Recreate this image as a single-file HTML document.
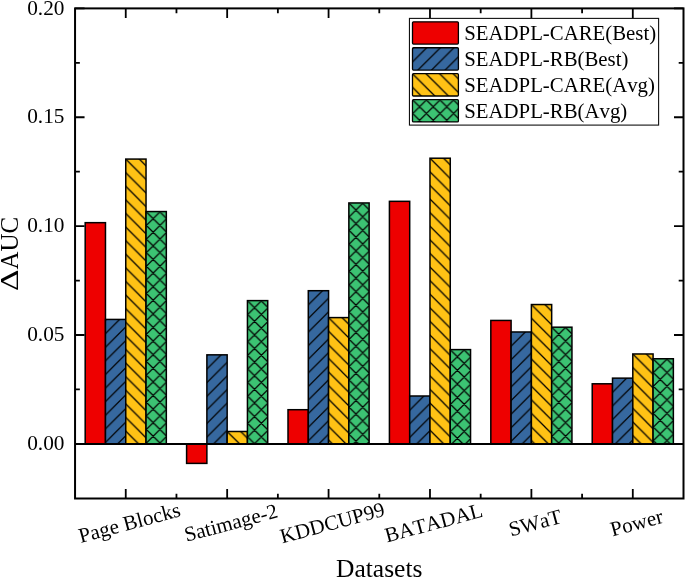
<!DOCTYPE html>
<html><head><meta charset="utf-8"><title>Bar chart</title>
<style>html,body{margin:0;padding:0;background:#fff;width:685px;height:578px;overflow:hidden}svg{display:block}text{font-kerning:none}</style>
</head><body>
<svg width="685" height="578" viewBox="0 0 685 578">
<defs><pattern id="p1" patternUnits="userSpaceOnUse" x="105.47" y="319.43" width="13.6" height="13.6"><rect width="13.6" height="13.6" fill="#36689F"/><path d="M-1 -12L-12 -1M-1 1.6L1.6 -1M-1 15.2L15.2 -1M-1 28.8L28.8 -1" stroke="#000" stroke-width="1.25"/></pattern><pattern id="p2" patternUnits="userSpaceOnUse" x="125.75" y="159.08" width="13.6" height="13.6"><rect width="13.6" height="13.6" fill="#FFC215"/><path d="M-1 26.2L14.6 41.8M-1 12.6L14.6 28.2M-1 -1L14.6 14.6M-1 -14.6L14.6 1" stroke="#000" stroke-width="1.25"/></pattern><pattern id="p3" patternUnits="userSpaceOnUse" x="146.04" y="211.56" width="13.6" height="13.6"><rect width="13.6" height="13.6" fill="#3CC373"/><path d="M-1 -12L-12 -1M-1 1.6L1.6 -1M-1 15.2L15.2 -1M-1 28.8L28.8 -1M-1 26.2L14.6 41.8M-1 12.6L14.6 28.2M-1 -1L14.6 14.6M-1 -14.6L14.6 1" stroke="#000" stroke-width="1.25"/></pattern><pattern id="p4" patternUnits="userSpaceOnUse" x="206.88" y="354.84" width="13.6" height="13.6"><rect width="13.6" height="13.6" fill="#36689F"/><path d="M-1 -12L-12 -1M-1 1.6L1.6 -1M-1 15.2L15.2 -1M-1 28.8L28.8 -1" stroke="#000" stroke-width="1.25"/></pattern><pattern id="p5" patternUnits="userSpaceOnUse" x="227.16" y="431.49" width="13.6" height="13.6"><rect width="13.6" height="13.6" fill="#FFC215"/><path d="M-1 26.2L14.6 41.8M-1 12.6L14.6 28.2M-1 -1L14.6 14.6M-1 -14.6L14.6 1" stroke="#000" stroke-width="1.25"/></pattern><pattern id="p6" patternUnits="userSpaceOnUse" x="247.44" y="300.62" width="13.6" height="13.6"><rect width="13.6" height="13.6" fill="#3CC373"/><path d="M-1 -12L-12 -1M-1 1.6L1.6 -1M-1 15.2L15.2 -1M-1 28.8L28.8 -1M-1 26.2L14.6 41.8M-1 12.6L14.6 28.2M-1 -1L14.6 14.6M-1 -14.6L14.6 1" stroke="#000" stroke-width="1.25"/></pattern><pattern id="p7" patternUnits="userSpaceOnUse" x="308.29" y="290.71" width="13.6" height="13.6"><rect width="13.6" height="13.6" fill="#36689F"/><path d="M-1 -12L-12 -1M-1 1.6L1.6 -1M-1 15.2L15.2 -1M-1 28.8L28.8 -1" stroke="#000" stroke-width="1.25"/></pattern><pattern id="p8" patternUnits="userSpaceOnUse" x="328.57" y="317.6" width="13.6" height="13.6"><rect width="13.6" height="13.6" fill="#FFC215"/><path d="M-1 26.2L14.6 41.8M-1 12.6L14.6 28.2M-1 -1L14.6 14.6M-1 -14.6L14.6 1" stroke="#000" stroke-width="1.25"/></pattern><pattern id="p9" patternUnits="userSpaceOnUse" x="348.85" y="202.96" width="13.6" height="13.6"><rect width="13.6" height="13.6" fill="#3CC373"/><path d="M-1 -12L-12 -1M-1 1.6L1.6 -1M-1 15.2L15.2 -1M-1 28.8L28.8 -1M-1 26.2L14.6 41.8M-1 12.6L14.6 28.2M-1 -1L14.6 14.6M-1 -14.6L14.6 1" stroke="#000" stroke-width="1.25"/></pattern><pattern id="p10" patternUnits="userSpaceOnUse" x="409.7" y="396" width="13.6" height="13.6"><rect width="13.6" height="13.6" fill="#36689F"/><path d="M-1 -12L-12 -1M-1 1.6L1.6 -1M-1 15.2L15.2 -1M-1 28.8L28.8 -1" stroke="#000" stroke-width="1.25"/></pattern><pattern id="p11" patternUnits="userSpaceOnUse" x="429.98" y="158.21" width="13.6" height="13.6"><rect width="13.6" height="13.6" fill="#FFC215"/><path d="M-1 26.2L14.6 41.8M-1 12.6L14.6 28.2M-1 -1L14.6 14.6M-1 -14.6L14.6 1" stroke="#000" stroke-width="1.25"/></pattern><pattern id="p12" patternUnits="userSpaceOnUse" x="450.26" y="349.61" width="13.6" height="13.6"><rect width="13.6" height="13.6" fill="#3CC373"/><path d="M-1 -12L-12 -1M-1 1.6L1.6 -1M-1 15.2L15.2 -1M-1 28.8L28.8 -1M-1 26.2L14.6 41.8M-1 12.6L14.6 28.2M-1 -1L14.6 14.6M-1 -14.6L14.6 1" stroke="#000" stroke-width="1.25"/></pattern><pattern id="p13" patternUnits="userSpaceOnUse" x="511.11" y="331.98" width="13.6" height="13.6"><rect width="13.6" height="13.6" fill="#36689F"/><path d="M-1 -12L-12 -1M-1 1.6L1.6 -1M-1 15.2L15.2 -1M-1 28.8L28.8 -1" stroke="#000" stroke-width="1.25"/></pattern><pattern id="p14" patternUnits="userSpaceOnUse" x="531.39" y="304.54" width="13.6" height="13.6"><rect width="13.6" height="13.6" fill="#FFC215"/><path d="M-1 26.2L14.6 41.8M-1 12.6L14.6 28.2M-1 -1L14.6 14.6M-1 -14.6L14.6 1" stroke="#000" stroke-width="1.25"/></pattern><pattern id="p15" patternUnits="userSpaceOnUse" x="551.67" y="327.19" width="13.6" height="13.6"><rect width="13.6" height="13.6" fill="#3CC373"/><path d="M-1 -12L-12 -1M-1 1.6L1.6 -1M-1 15.2L15.2 -1M-1 28.8L28.8 -1M-1 26.2L14.6 41.8M-1 12.6L14.6 28.2M-1 -1L14.6 14.6M-1 -14.6L14.6 1" stroke="#000" stroke-width="1.25"/></pattern><pattern id="p16" patternUnits="userSpaceOnUse" x="612.51" y="378.14" width="13.6" height="13.6"><rect width="13.6" height="13.6" fill="#36689F"/><path d="M-1 -12L-12 -1M-1 1.6L1.6 -1M-1 15.2L15.2 -1M-1 28.8L28.8 -1" stroke="#000" stroke-width="1.25"/></pattern><pattern id="p17" patternUnits="userSpaceOnUse" x="632.8" y="353.97" width="13.6" height="13.6"><rect width="13.6" height="13.6" fill="#FFC215"/><path d="M-1 26.2L14.6 41.8M-1 12.6L14.6 28.2M-1 -1L14.6 14.6M-1 -14.6L14.6 1" stroke="#000" stroke-width="1.25"/></pattern><pattern id="p18" patternUnits="userSpaceOnUse" x="653.08" y="358.76" width="13.6" height="13.6"><rect width="13.6" height="13.6" fill="#3CC373"/><path d="M-1 -12L-12 -1M-1 1.6L1.6 -1M-1 15.2L15.2 -1M-1 28.8L28.8 -1M-1 26.2L14.6 41.8M-1 12.6L14.6 28.2M-1 -1L14.6 14.6M-1 -14.6L14.6 1" stroke="#000" stroke-width="1.25"/></pattern></defs>
<rect x="85.19" y="222.67" width="20.28" height="221.23" fill="#EE0000" stroke="#000" stroke-width="1.5"/><rect x="105.47" y="319.43" width="20.28" height="124.47" fill="url(#p1)" stroke="#000" stroke-width="1.5"/><rect x="125.75" y="159.08" width="20.28" height="284.82" fill="url(#p2)" stroke="#000" stroke-width="1.5"/><rect x="146.04" y="211.56" width="20.28" height="232.34" fill="url(#p3)" stroke="#000" stroke-width="1.5"/><rect x="186.6" y="443.9" width="20.28" height="19.49" fill="#EE0000" stroke="#000" stroke-width="1.5"/><rect x="206.88" y="354.84" width="20.28" height="89.06" fill="url(#p4)" stroke="#000" stroke-width="1.5"/><rect x="227.16" y="431.49" width="20.28" height="12.41" fill="url(#p5)" stroke="#000" stroke-width="1.5"/><rect x="247.44" y="300.62" width="20.28" height="143.28" fill="url(#p6)" stroke="#000" stroke-width="1.5"/><rect x="288.01" y="409.71" width="20.28" height="34.19" fill="#EE0000" stroke="#000" stroke-width="1.5"/><rect x="308.29" y="290.71" width="20.28" height="153.19" fill="url(#p7)" stroke="#000" stroke-width="1.5"/><rect x="328.57" y="317.6" width="20.28" height="126.3" fill="url(#p8)" stroke="#000" stroke-width="1.5"/><rect x="348.85" y="202.96" width="20.28" height="240.94" fill="url(#p9)" stroke="#000" stroke-width="1.5"/><rect x="389.42" y="201.33" width="20.28" height="242.57" fill="#EE0000" stroke="#000" stroke-width="1.5"/><rect x="409.7" y="396" width="20.28" height="47.9" fill="url(#p10)" stroke="#000" stroke-width="1.5"/><rect x="429.98" y="158.21" width="20.28" height="285.69" fill="url(#p11)" stroke="#000" stroke-width="1.5"/><rect x="450.26" y="349.61" width="20.28" height="94.29" fill="url(#p12)" stroke="#000" stroke-width="1.5"/><rect x="490.82" y="320.44" width="20.28" height="123.46" fill="#EE0000" stroke="#000" stroke-width="1.5"/><rect x="511.11" y="331.98" width="20.28" height="111.92" fill="url(#p13)" stroke="#000" stroke-width="1.5"/><rect x="531.39" y="304.54" width="20.28" height="139.36" fill="url(#p14)" stroke="#000" stroke-width="1.5"/><rect x="551.67" y="327.19" width="20.28" height="116.71" fill="url(#p15)" stroke="#000" stroke-width="1.5"/><rect x="592.23" y="383.8" width="20.28" height="60.1" fill="#EE0000" stroke="#000" stroke-width="1.5"/><rect x="612.51" y="378.14" width="20.28" height="65.76" fill="url(#p16)" stroke="#000" stroke-width="1.5"/><rect x="632.8" y="353.97" width="20.28" height="89.93" fill="url(#p17)" stroke="#000" stroke-width="1.5"/><rect x="653.08" y="358.76" width="20.28" height="85.14" fill="url(#p18)" stroke="#000" stroke-width="1.5"/>
<path d="M75.05 443.9H683.5" stroke="#000" stroke-width="2.0"/>
<path d="M75.05 443.9h9.5M683.5 443.9h-9.5M75.05 389.46h4.8M683.5 389.46h-4.8M75.05 335.02h9.5M683.5 335.02h-9.5M75.05 280.59h4.8M683.5 280.59h-4.8M75.05 226.15h9.5M683.5 226.15h-9.5M75.05 171.71h4.8M683.5 171.71h-4.8M75.05 117.27h9.5M683.5 117.27h-9.5M75.05 62.84h4.8M683.5 62.84h-4.8M75.05 8.4h9.5M683.5 8.4h-9.5M125.75 8.4v9.5M125.75 498.5v-9.5M176.46 8.4v4.8M176.46 498.5v-4.8M227.16 8.4v9.5M227.16 498.5v-9.5M277.87 8.4v4.8M277.87 498.5v-4.8M328.57 8.4v9.5M328.57 498.5v-9.5M379.28 8.4v4.8M379.28 498.5v-4.8M429.98 8.4v9.5M429.98 498.5v-9.5M480.68 8.4v4.8M480.68 498.5v-4.8M531.39 8.4v9.5M531.39 498.5v-9.5M582.09 8.4v4.8M582.09 498.5v-4.8M632.8 8.4v9.5M632.8 498.5v-9.5" stroke="#000" stroke-width="1.8" fill="none"/>
<rect x="75.05" y="8.4" width="608.45" height="490.1" fill="none" stroke="#000" stroke-width="2.0"/>
<g font-family="Liberation Serif, Times New Roman, serif" font-size="21.3" fill="#000"><text x="64.5" y="450.1" text-anchor="end">0.00</text><text x="64.5" y="341.22" text-anchor="end">0.05</text><text x="64.5" y="232.35" text-anchor="end">0.10</text><text x="64.5" y="123.47" text-anchor="end">0.15</text><text x="64.5" y="14.6" text-anchor="end">0.20</text></g>
<g font-family="Liberation Serif, Times New Roman, serif" font-size="21" fill="#000"><text transform="translate(131.25 529.5) rotate(-15)" text-anchor="middle">Page Blocks</text><text transform="translate(232.66 529.5) rotate(-15)" text-anchor="middle">Satimage-2</text><text transform="translate(334.07 529.5) rotate(-15)" text-anchor="middle">KDDCUP99</text><text transform="translate(435.48 529.5) rotate(-15)" text-anchor="middle">BATADAL</text><text transform="translate(536.89 529.5) rotate(-15)" text-anchor="middle">SWaT</text><text transform="translate(638.3 529.5) rotate(-15)" text-anchor="middle">Power</text></g>
<text font-family="Liberation Serif, Times New Roman, serif" font-size="25.5" x="379.2" y="577" text-anchor="middle">Datasets</text>
<text font-family="Liberation Serif, Times New Roman, serif" font-size="25" transform="translate(17.6 269.5) rotate(-90)">AUC</text>
<text font-family="Liberation Serif, Times New Roman, serif" font-size="25.6" transform="translate(17.6 291) rotate(-90) scale(1.3 1)">&#916;</text>
<defs><pattern id="lp1" patternUnits="userSpaceOnUse" x="412.5" y="47.75" width="13.6" height="13.6"><rect width="13.6" height="13.6" fill="#36689F"/><path d="M-1 -12L-12 -1M-1 1.6L1.6 -1M-1 15.2L15.2 -1M-1 28.8L28.8 -1" stroke="#000" stroke-width="1.25"/></pattern><pattern id="lp2" patternUnits="userSpaceOnUse" x="412.5" y="73.7" width="13.6" height="13.6"><rect width="13.6" height="13.6" fill="#FFC215"/><path d="M-1 26.2L14.6 41.8M-1 12.6L14.6 28.2M-1 -1L14.6 14.6M-1 -14.6L14.6 1" stroke="#000" stroke-width="1.25"/></pattern><pattern id="lp3" patternUnits="userSpaceOnUse" x="412.5" y="99.65" width="13.6" height="13.6"><rect width="13.6" height="13.6" fill="#3CC373"/><path d="M-1 -12L-12 -1M-1 1.6L1.6 -1M-1 15.2L15.2 -1M-1 28.8L28.8 -1M-1 26.2L14.6 41.8M-1 12.6L14.6 28.2M-1 -1L14.6 14.6M-1 -14.6L14.6 1" stroke="#000" stroke-width="1.25"/></pattern></defs><g font-family="Liberation Serif, Times New Roman, serif" font-size="20.8" fill="#000"><rect x="409.45" y="18.4" width="249.15" height="106.7" fill="#fff" stroke="#111" stroke-width="1.1"/><rect x="412.5" y="21.8" width="45.9" height="22.3" rx="1" fill="#EE0000" stroke="#000" stroke-width="1.3"/><text x="464.3" y="39.7">SEADPL-CARE(Best)</text><rect x="412.5" y="47.75" width="45.9" height="22.3" rx="1" fill="url(#lp1)" stroke="#000" stroke-width="1.3"/><text x="464.3" y="65.65">SEADPL-RB(Best)</text><rect x="412.5" y="73.7" width="45.9" height="22.3" rx="1" fill="url(#lp2)" stroke="#000" stroke-width="1.3"/><text x="464.3" y="91.6">SEADPL-CARE(Avg)</text><rect x="412.5" y="99.65" width="45.9" height="22.3" rx="1" fill="url(#lp3)" stroke="#000" stroke-width="1.3"/><text x="464.3" y="117.55">SEADPL-RB(Avg)</text></g>
</svg>
</body></html>
